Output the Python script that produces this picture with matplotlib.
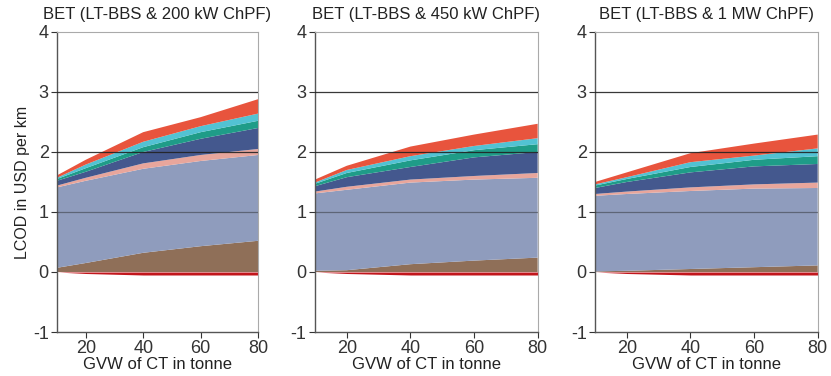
import numpy as np
import matplotlib.pyplot as plt

plt.rcParams['font.family'] = ['Liberation Sans', 'DejaVu Sans']
plt.rcParams['axes.unicode_minus'] = False

# GVW of CT in tonne
gvw = [10, 20, 40, 60, 80]

titles = ['BET (LT-BBS & 200 kW ChPF)',
          'BET (LT-BBS & 450 kW ChPF)',
          'BET (LT-BBS & 1 MW ChPF)']

# cost components in USD per km (stacked from bottom), one list per panel
negative_200 = [0.0, -0.025, -0.05, -0.05, -0.05]
brown_200 = [0.07, 0.15, 0.32, 0.43, 0.52]
slate_200 = [1.34, 1.37, 1.40, 1.42, 1.43]
pink_200 = [0.03, 0.05, 0.09, 0.10, 0.10]
navy_200 = [0.08, 0.10, 0.19, 0.27, 0.35]
teal_200 = [0.03, 0.06, 0.08, 0.11, 0.12]
cyan_200 = [0.02, 0.06, 0.09, 0.10, 0.12]
red_200 = [0.04, 0.08, 0.16, 0.15, 0.24]

negative_450 = [0.0, -0.025, -0.05, -0.05, -0.05]
brown_450 = [0.02, 0.03, 0.13, 0.19, 0.24]
slate_450 = [1.29, 1.34, 1.36, 1.35, 1.33]
pink_450 = [0.03, 0.05, 0.05, 0.06, 0.08]
navy_450 = [0.09, 0.16, 0.21, 0.31, 0.35]
teal_450 = [0.04, 0.07, 0.11, 0.12, 0.13]
cyan_450 = [0.02, 0.05, 0.07, 0.07, 0.10]
red_450 = [0.05, 0.07, 0.16, 0.19, 0.24]

negative_1mw = [0.0, -0.025, -0.05, -0.05, -0.05]
brown_1mw = [0.01, 0.02, 0.05, 0.08, 0.11]
slate_1mw = [1.26, 1.28, 1.30, 1.31, 1.29]
pink_1mw = [0.03, 0.04, 0.06, 0.07, 0.09]
navy_1mw = [0.10, 0.16, 0.25, 0.30, 0.31]
teal_1mw = [0.04, 0.05, 0.09, 0.11, 0.13]
cyan_1mw = [0.02, 0.03, 0.08, 0.07, 0.13]
red_1mw = [0.04, 0.08, 0.15, 0.20, 0.23]

panels = [
    (negative_200, [brown_200, slate_200, pink_200, navy_200, teal_200, cyan_200, red_200]),
    (negative_450, [brown_450, slate_450, pink_450, navy_450, teal_450, cyan_450, red_450]),
    (negative_1mw, [brown_1mw, slate_1mw, pink_1mw, navy_1mw, teal_1mw, cyan_1mw, red_1mw]),
]

colors = ['#8f6f58', '#8f9cbd', '#e8a69c', '#44588e', '#1f9c88', '#52c2d3', '#e8543d']
neg_color = '#c2161c'

fig = plt.figure(figsize=(8.31, 3.76), dpi=100)
# axes boxes in figure fraction
boxes = [[0.0686, 0.117, 0.242, 0.798],
         [0.379, 0.117, 0.268, 0.798],
         [0.716, 0.117, 0.268, 0.798]]

for i, (neg, layers) in enumerate(panels):
    ax = fig.add_axes(boxes[i])
    ax.stackplot(gvw, *layers, colors=colors, lw=0)
    ax.fill_between(gvw, neg, 0, color=neg_color, lw=0)
    # grid lines drawn on top of the areas
    for yv in [1, 2, 3]:
        ax.axhline(yv, color='#222222', lw=0.9, alpha=0.45 if yv == 1 else 0.9, zorder=5)
    ax.set_xlim(10, 80)
    ax.set_ylim(-1, 4)
    ax.set_xticks([20, 40, 60, 80])
    ax.set_yticks([-1, 0, 1, 2, 3, 4])
    ax.tick_params(labelsize=13, colors='#333333', length=4, width=0.8, pad=2)
    for s in ['top', 'right']:
        ax.spines[s].set_color('#aaaaaa')
        ax.spines[s].set_linewidth(0.8)
    for s in ['left', 'bottom']:
        ax.spines[s].set_color('#555555')
        ax.spines[s].set_linewidth(1.0)
    ax.set_title(titles[i], fontsize=12, color='#222222', pad=9)
    ax.set_xlabel('GVW of CT in tonne', fontsize=12, color='#222222', labelpad=0)
    if i == 0:
        ax.set_ylabel('LCOD in USD per km', fontsize=11.5, color='#222222', labelpad=2)

fig.savefig('out.png', dpi=100)
